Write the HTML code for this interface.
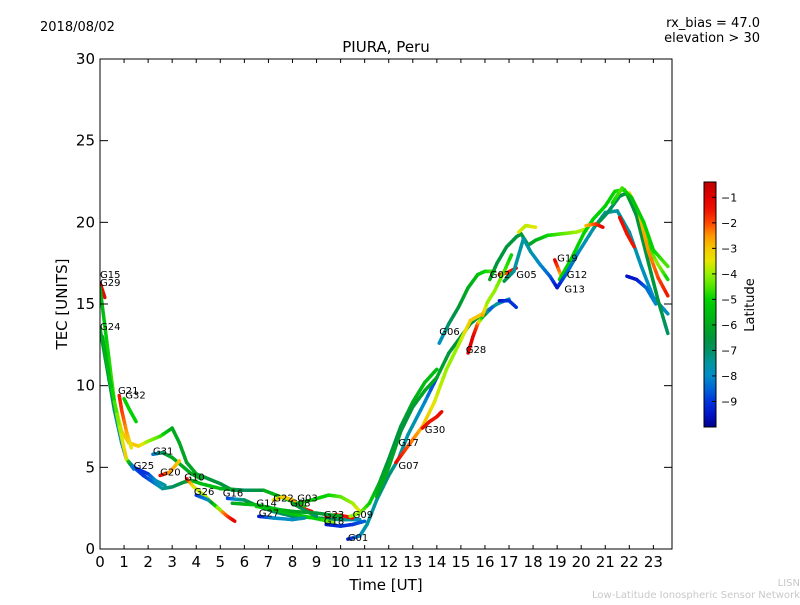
<!DOCTYPE html>
<html><head><meta charset="utf-8"><style>
body{margin:0;background:#fff;}
svg text{font-family:"DejaVu Sans","Liberation Sans",sans-serif;}
</style></head><body>
<svg id="chart" width="800" height="600" viewBox="0 0 800 600" xmlns="http://www.w3.org/2000/svg">
<defs>
<linearGradient id="cmap" x1="0" y1="1" x2="0" y2="0"></linearGradient>
<clipPath id="plotclip"><rect x="100" y="59" width="572" height="490"/></clipPath>
</defs>
<text x="40" y="31" font-size="13">2018/08/02</text>
<text x="760" y="27" font-size="13" text-anchor="end">rx_bias = 47.0</text>
<text x="760" y="42" font-size="13" text-anchor="end">elevation &gt; 30</text>
<text x="386" y="52" font-size="15" text-anchor="middle">PIURA, Peru</text>
<g id="marks" clip-path="url(#plotclip)"></g>
<g id="labels"></g>
<rect x="100" y="59" width="572" height="490" fill="none" stroke="#000" stroke-width="1"/>
<g id="axes"></g>
<text x="386" y="590" font-size="15" text-anchor="middle">Time [UT]</text>
<text transform="translate(67,304) rotate(-90)" font-size="15" text-anchor="middle">TEC [UNITS]</text>
<rect x="704" y="182" width="12" height="245" fill="url(#cmap)" stroke="#000" stroke-width="1"/>
<g id="cbticks"></g>
<text transform="translate(754,305) rotate(-90)" font-size="13" text-anchor="middle">Latitude</text>
<text x="800" y="586" font-size="10" fill="#c8c8c8" text-anchor="end">LISN</text>
<text x="800" y="598" font-size="10" fill="#c8c8c8" text-anchor="end">Low-Latitude Ionospheric Sensor Network</text>
</svg>
<script>
const xTicks=[0,1,2,3,4,5,6,7,8,9,10,11,12,13,14,15,16,17,18,19,20,21,22,23];
const yTicks=[0,5,10,15,20,25,30];
const cbTicks=[-1,-2,-3,-4,-5,-6,-7,-8,-9];
const trackNames=["G15","G29","G24","G21","G32","G25","G31","G20","G10","G26","G16","G14","G27","G22","G03","G08","G23","G18","G09","G01","G17","G07","G30","G06","G28","G02","G05","G19","G12","G13","A1","A2","A3","A4","A5","A6","A7","A8","A9","A10","A11"];
// each track: [hour, tec, latitude]
const tracks=[
[[0,16.3,-1],[0.2,15.4,-1.2]],
[[0,16,-6],[0.3,12.5,-5],[0.6,9,-4.5],[0.9,7.2,-3],[1.2,6.5,-3],[1.6,6.3,-3],[2,6.6,-4],[2.5,6.9,-4.5],[3,7.4,-6],[3.3,6.5,-6],[3.6,5.3,-6.2],[4,4.6,-6],[4.5,4.3,-6.5],[5,4,-6.5],[5.5,3.6,-6.5],[6,3.6,-6.5],[6.8,3.6,-6],[7.5,3.2,-5.5],[8,2.9,-5],[8.5,2.6,-5]],
[[0,13.5,-6],[0.3,11,-6.5],[0.6,8.5,-7],[0.9,6.5,-8],[1.1,5.5,-8],[1.4,5,-8.5],[1.8,4.5,-9],[2.2,4.1,-8.5],[2.6,3.7,-7.5],[3,3.8,-7],[3.5,4.1,-6.5],[3.8,4.2,-6],[4.2,4.0,-5.5],[5,3.7,-5.5],[6,3.6,-7],[6.7,3.6,-6.5]],
[[0.8,9.4,-1.5],[0.9,8.5,-1.8],[1.1,7.2,-2.5],[1.3,6.2,-3.5]],
[[1.0,9.2,-5],[1.2,8.6,-5],[1.5,7.8,-5]],
[[1.4,5,-9],[2.0,4.6,-9],[2.3,4.2,-8],[2.7,3.9,-7.5]],
[[2.2,5.8,-8.5],[2.6,5.9,-7],[3,5.6,-6],[3.4,5.1,-6],[3.8,4.6,-6],[4.2,4.3,-6]],
[[2.5,4.5,-1],[2.9,4.7,-2.5],[3.3,5.4,-3]],
[[3.6,4.3,-1.2],[3.9,3.8,-3.5],[4.4,3.2,-4],[4.9,2.5,-3],[5.3,2,-2],[5.6,1.7,-1]],
[[4,3.3,-9],[4.5,3,-8],[5,2.4,-3.5]],
[[5.3,3.1,-9],[6,3,-7],[6.6,2.6,-6],[7.2,2.3,-7],[8,2.0,-7],[9,1.9,-6.5],[10,1.8,-7],[10.8,1.8,-8]],
[[6.5,2.6,-5],[7,2.5,-5],[7.8,2.2,-5.5],[8.5,2.0,-5],[9.2,1.8,-5],[9.7,1.6,-4]],
[[6.6,2.0,-9.5],[7.2,1.9,-8],[8,1.8,-8],[8.5,1.9,-7.5]],
[[7.2,3.0,-3.5],[7.6,3.2,-3],[8,3.0,-3],[8.4,2.5,-2],[8.8,2.3,-1.2]],
[[8.2,2.8,-6],[8.8,3.0,-5],[9.5,3.3,-5],[10,3.2,-4.5],[10.5,2.8,-4],[10.8,2.3,-3.5]],
[[8.0,2.8,-6],[8.6,2.3,-7],[9.0,2.0,-7]],
[[9.4,2.0,-1],[9.8,2.1,-2],[10.2,2.0,-1.5],[10.5,1.9,-1.2]],
[[9.4,1.5,-9.5],[10,1.4,-9],[10.5,1.5,-9],[11,1.7,-8.5]],
[[10.4,2.0,-4],[10.8,2.2,-4],[11.2,2.8,-5],[11.6,4,-6],[12,5.5,-6.5],[12.5,7.5,-6.5],[13,9,-6],[13.5,10.2,-5.5],[14,11,-5.5]],
[[10.3,0.6,-9.5],[10.8,0.8,-8],[11.1,1.5,-7.5],[11.5,3,-7.5],[12,4.5,-7],[12.4,5.5,-7.5],[12.8,7,-7.5],[13.5,9,-8],[14,10.5,-9]],
[[11.5,3.2,-6],[12,5,-6],[12.5,7.2,-6.5],[13,8.7,-6.5],[13.5,9.7,-6],[14,10.5,-6],[14.5,12,-6.5],[15,13,-6.5],[15.4,13.8,-6.5],[15.9,14.4,-7],[16.5,15,-7.5],[17,15.3,-8]],
[[12.3,5.3,-1.2],[12.8,6.3,-2],[13.4,7.5,-2.8],[13.9,9,-3.5],[14.4,11,-4],[14.9,12.5,-4],[15.4,14,-3],[15.9,14.4,-3]],
[[13.4,7.4,-1.2],[13.7,7.8,-1.5],[14,8.1,-1.5],[14.2,8.4,-1.2]],
[[14.1,12.6,-8],[14.5,13.8,-7],[14.9,14.8,-6.5],[15.3,16,-6],[15.7,16.8,-5.5],[16,17,-5],[16.4,17,-4.5]],
[[15.3,12,-1],[15.5,13,-1],[15.7,13.8,-2],[15.9,14.2,-5],[16.3,14.8,-9]],
[[16.2,16.5,-6],[16.5,17.5,-6.5],[16.9,18.5,-6.5],[17.3,19.1,-6.5],[17.5,19.3,-6.5],[17.8,18.6,-6.5],[18.1,18.9,-6],[18.6,19.2,-5],[19.2,19.3,-4.5],[19.8,19.4,-4],[20.2,19.6,-3.8]],
[[16.6,16.8,-1.5],[16.9,16.9,-2],[17.3,17.2,-1.2]],
[[18.9,17.7,-1],[19.2,16.6,-3],[19.4,16.8,-4]],
[[19.1,16.5,-5],[19.6,17.8,-5],[20.1,19.3,-5],[20.5,20.2,-5],[21,21,-5],[21.4,21.9,-5],[21.8,22.0,-4.5],[22.3,20.5,-5],[22.8,18.5,-5],[23.2,17.4,-4],[23.6,16.5,-5]],
[[16.8,16.4,-6.5],[17.2,17,-7.5],[17.6,19,-7.5],[17.9,18.2,-7.5],[18.3,17.4,-8],[18.7,16.7,-8.5],[19,16,-9.5],[19.4,16.9,-8.5],[19.9,18.2,-8],[20.5,19.6,-7.5],[21,20.6,-7.5],[21.5,20.7,-7.5],[22,19.4,-7.5],[22.5,17.3,-7.8],[23,15.4,-8],[23.6,14.4,-7.8]],
[[20.6,19.8,-6.5],[21.1,20.6,-7],[21.6,21.6,-6.8],[21.9,21.8,-6.5],[22.3,20.4,-6.5],[22.8,17.5,-6.5],[23.2,15.2,-6.5],[23.6,13.2,-7]],
[[22.0,21.8,-3.5],[22.4,20.6,-3],[22.8,18.2,-2.5],[23.2,16.6,-2],[23.6,15.5,-1.5]],
[[21.9,16.7,-9.5],[22.3,16.5,-9.5],[22.7,16,-8.5],[23.1,15,-8]],
[[21.6,20.3,-1.2],[21.9,19.3,-1.5],[22.2,18.5,-1.5]],
[[17.4,19.4,-3.5],[17.7,19.8,-3.8],[18.1,19.7,-3.5]],
[[16.6,15.2,-9.5],[17,15.2,-9],[17.3,14.8,-9]],
[[20.2,19.8,-3],[20.6,19.9,-2],[20.9,19.7,-1.2]],
[[5.5,2.8,-6],[6.5,2.7,-5.5],[7.5,2.4,-5.5],[8,2.3,-6],[9,2.2,-6.5],[10,2.0,-6]],
[[15.9,14.3,-2.5],[16.1,15.1,-4],[16.4,15.8,-4],[16.8,17,-4.5],[17.1,18,-5]],
[[0.1,13,-6],[0.4,10.5,-5.5],[0.8,7.5,-4],[1.1,5.5,-3],[1.4,4.9,-9]],
[[21.3,21.2,-5],[21.7,22.1,-4.5],[22.1,21.5,-5.5],[22.6,20,-5],[23,18.3,-5],[23.6,17.3,-4.5]]
];
const labelNames=["G15","G29","G24","G21","G32","G25","G31","G20","G10","G26","G16","G14","G27","G22","G03","G08","G23","G18","G09","G01","G17","G07","G30","G06","G28","G02","G05","G19","G12","G13"];
const labelX=[0,0,0,0.75,1.05,1.4,2.2,2.5,3.5,3.9,5.1,6.5,6.6,7.2,8.2,7.9,9.3,9.3,10.5,10.3,12.4,12.4,13.5,14.1,15.2,16.2,17.3,19.0,19.4,19.3];
const labelY=[16.6,16.1,13.4,9.5,9.2,4.9,5.8,4.5,4.2,3.3,3.2,2.6,2.0,2.9,2.9,2.6,1.9,1.5,1.9,0.5,6.3,4.9,7.1,13.1,12.0,16.6,16.6,17.6,16.6,15.7];

const X0=100,X1=672,Y0=549,Y1=59;
const xs=h=>X0+h*24.06;
const ys=v=>Y0-(v/30)*(Y0-Y1);
const NS='http://www.w3.org/2000/svg';
const cmapStops=[[-10,[0,0,140]],[-9.5,[0,20,200]],[-9,[0,50,220]],[-8.5,[0,100,215]],[-8,[0,140,200]],[-7.5,[0,150,160]],[-7,[0,145,100]],[-6.5,[0,150,60]],[-6,[0,170,30]],[-5,[0,210,0]],[-4.5,[80,230,0]],[-4,[150,240,0]],[-3.5,[230,230,0]],[-3,[245,200,0]],[-2.5,[255,150,0]],[-2,[255,70,0]],[-1.5,[240,20,0]],[-1,[225,0,0]],[-0.4,[190,0,0]]];
function cmap(lat){
 if(lat<=cmapStops[0][0])return 'rgb('+cmapStops[0][1]+')';
 for(let i=0;i<cmapStops.length-1;i++){const a=cmapStops[i],b=cmapStops[i+1];
  if(lat<=b[0]){const f=(lat-a[0])/(b[0]-a[0]);return 'rgb('+a[1].map((c,j)=>Math.round(c+(b[1][j]-c)*f)).join(',')+')';}}
 return 'rgb('+cmapStops[cmapStops.length-1][1]+')';
}
const grad=document.getElementById('cmap');
cmapStops.forEach(s=>{const st=document.createElementNS(NS,'stop');st.setAttribute('offset',(s[0]+10)/9.6);st.setAttribute('stop-color','rgb('+s[1]+')');grad.appendChild(st);});
const marks=document.getElementById('marks');
tracks.forEach((tr,i)=>{
 const g=document.createElementNS(NS,'g');
 
 
 for(let k=0;k<tr.length-1;k++){
  const a=tr[k],b=tr[k+1];const n=4;
  for(let s=0;s<n;s++){
   const f0=s/n,f1=(s+1)/n,fm=(s+0.5)/n;
   const l=document.createElementNS(NS,'line');
   l.setAttribute('x1',xs(a[0]+(b[0]-a[0])*f0));l.setAttribute('y1',ys(a[1]+(b[1]-a[1])*f0));
   l.setAttribute('x2',xs(a[0]+(b[0]-a[0])*f1));l.setAttribute('y2',ys(a[1]+(b[1]-a[1])*f1));
   l.setAttribute('stroke',cmap(a[2]+(b[2]-a[2])*fm));l.setAttribute('stroke-width','3.5');l.setAttribute('stroke-linecap','round');
   g.appendChild(l);
  }
 }
 marks.appendChild(g);
});
const labels=document.getElementById('labels');
labelNames.forEach((nm,i)=>{
 const t=document.createElementNS(NS,'text');
 
 
 t.setAttribute('x',xs(labelX[i]));t.setAttribute('y',ys(labelY[i]));t.setAttribute('font-size','10');
 t.textContent=nm;labels.appendChild(t);
});
const axes=document.getElementById('axes');
xTicks.forEach(v=>{
 const x=xs(v);
 [[Y0,Y0-4],[Y1,Y1+4]].forEach(p=>{const l=document.createElementNS(NS,'line');
  l.setAttribute('x1',x);l.setAttribute('x2',x);l.setAttribute('y1',p[0]);l.setAttribute('y2',p[1]);l.setAttribute('stroke','#000');axes.appendChild(l);});
 const t=document.createElementNS(NS,'text');
 
 
 t.setAttribute('x',x);t.setAttribute('y',567);t.setAttribute('font-size','15');t.setAttribute('text-anchor','middle');t.textContent=v;axes.appendChild(t);
});
yTicks.forEach(v=>{
 const y=ys(v);
 [[X0,X0+8],[X1,X1-8]].forEach(p=>{const l=document.createElementNS(NS,'line');
  l.setAttribute('x1',p[0]);l.setAttribute('x2',p[1]);l.setAttribute('y1',y);l.setAttribute('y2',y);l.setAttribute('stroke','#000');axes.appendChild(l);});
 const t=document.createElementNS(NS,'text');
 
 
 t.setAttribute('x',95);t.setAttribute('y',y+5);t.setAttribute('font-size','15');t.setAttribute('text-anchor','end');t.textContent=v;axes.appendChild(t);
});
const cb=document.getElementById('cbticks');
cbTicks.forEach(v=>{
 const y=182+245*(( -0.4 - v)/9.6);
 const l=document.createElementNS(NS,'line');
 l.setAttribute('x1',712);l.setAttribute('x2',716);l.setAttribute('y1',y);l.setAttribute('y2',y);l.setAttribute('stroke','#000');cb.appendChild(l);
 const t=document.createElementNS(NS,'text');
 
 
 t.setAttribute('x',721);t.setAttribute('y',y+4);t.setAttribute('font-size','11');t.textContent='\u2212'+(-v);cb.appendChild(t);
});
</script>
</body></html>
